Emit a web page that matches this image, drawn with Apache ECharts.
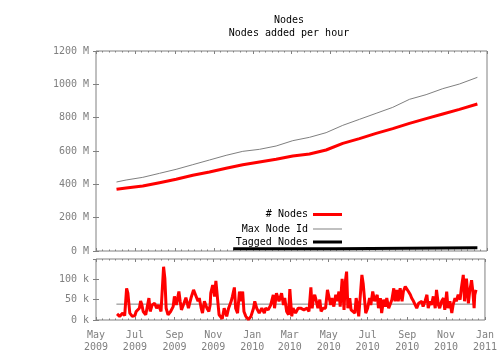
<!DOCTYPE html>
<html><head><meta charset="utf-8">
<script src="https://cdn.jsdelivr.net/npm/echarts@6/dist/echarts.min.js"></script>
<style>html,body{margin:0;padding:0;background:#fff}#c{width:500px;height:360px}</style>
</head><body><div id="c"></div>
<script>
// x values are days since 2009-05-01
const nodesDays = [32,47,73,99,125,151,177,203,229,255,281,307,333,359,385,411,437,463,489,515,541,567,595];
const nodesValues = [370,378,390,410,430,454,474,496,518,534,550,570,582,606,646,674,706,734,766,794,822,850,882]; // millions
const maxIdValues = [414,426,442,466,490,518,546,574,598,610,630,662,682,710,754,790,826,862,910,938,974,1002,1042]; // millions
const taggedDays = [214, 374, 595];
const taggedValues = [14, 19, 19]; // millions
const hourDays = [33,37,42,45,48,50,53,57,61,63,68,70,72,74,78,81,83,85,88,92,95,98,100,102,106,108,110,113,117,121,123,126,130,132,134,137,141,145,149,153,156,160,162,165,167,170,174,177,179,180,183,186,188,191,193,198,201,205,208,212,214,217,219,222,225,227,230,232,235,239,243,247,249,252,256,260,264,266,270,274,278,280,283,287,291,294,296,299,302,304,307,309,313,317,
  321,326,331,334,337,339,341,343,345,348,351,353,356,360,363,365,368,370,373,376,378,381,383,386,389,391,393,395,398,400,403,406,408,410,412,415,417,419,421,423,426,429,431,434,437,441,443,446,448,451,454,456,459,461,464,467,469,472,474,477,480,482,485,487,490,493,495,498,500,503,506,508,511,513,516,519,521,524,526,529,532,534,537,539,542,545,547,550,552,555,558,560,563,565,568,571,573,576,578,581,584,586,589,591,593,594,596];
const hourValues = [15,9,17,11,78,66,17,9,11,21,29,47,37,21,13,13,54,21,37,41,29,37,29,21,131,102,29,13,21,33,58,37,70,46,25,37,55,29,54,74,62,46,54,29,17,46,29,21,37,66,86,58,96,46,13,3,29,9,29,46,58,80,29,17,70,46,70,21,9,1,9,29,46,29,17,29,17,29,25,37,62,29,66,46,66,37,54,21,13,76,9,29,17,29,
  29,25,29,21,80,29,54,62,50,29,50,21,29,29,74,70,37,54,33,62,46,70,33,101,25,94,119,29,54,25,29,17,54,37,9,13,111,90,54,17,29,54,37,70,46,62,29,54,17,50,33,54,29,25,50,78,46,74,46,78,46,70,82,78,70,62,54,46,50,29,41,37,46,33,46,62,29,46,37,58,29,74,37,29,46,54,25,70,29,46,17,37,54,46,62,50,78,111,46,102,41,70,98,70,29,62,74]; // thousands
const hourRefDays = [32, 595];
const hourRefValues = [39, 39]; // thousands
const xTickDays = [0,61,123,184,245,304,365,426,488,549,610];
const xTickLabels = ['May\n2009','Jul\n2009','Sep\n2009','Nov\n2009','Jan\n2010','Mar\n2010','May\n2010','Jul\n2010','Sep\n2010','Nov\n2010','Jan\n2011'];

const zip = (a, b) => a.map((v, i) => [v, b[i]]);
const minorTicks = [];
for (let i = 0; i < xTickDays.length - 1; i++) {
  for (let k = 1; k < 6; k++) minorTicks.push(xTickDays[i] + (xTickDays[i+1] - xTickDays[i]) * k / 6);
}
const gray = '#808080';
const font = 'DejaVu Sans Mono';

function xAx(gridIndex, position, ticks, len, labels) {
  return {
    type: 'value', gridIndex, position, min: 0, max: 610,
    axisLine: {show: false}, splitLine: {show: false},
    axisTick: {show: true, inside: true, length: len, customValues: ticks, lineStyle: {color: gray}},
    axisLabel: labels ? {
      show: true, customValues: xTickDays,
      formatter: v => xTickLabels[xTickDays.indexOf(v)],
      color: gray, fontFamily: font, fontSize: 10, lineHeight: 12, margin: 9
    } : {show: false}
  };
}
function yAx(gridIndex, position, max, interval, unit, labels) {
  return {
    type: 'value', gridIndex, position, min: 0, max, interval,
    axisLine: {show: false}, splitLine: {show: false},
    axisTick: {show: true, inside: true, length: 3, lineStyle: {color: gray}},
    axisLabel: labels ? {
      show: true, formatter: v => v + ' ' + unit, color: gray, fontFamily: font, fontSize: 10,
      margin: 7, showMaxLabel: unit === 'M'
    } : {show: false}
  };
}
const legendBase = {right: 158, padding: 0, itemWidth: 29, icon: 'rect', align: 'right', selectedMode: false,
  textStyle: {color: '#000', fontFamily: font, fontSize: 10, lineHeight: 12}};

const option = {
  animation: false,
  backgroundColor: '#fff',
  title: {text: 'Nodes\nNodes added per hour', left: 289, top: 14, padding: 0, textAlign: 'center',
    textStyle: {color: '#000', fontFamily: font, fontSize: 10, fontWeight: 'normal', lineHeight: 13}},
  legend: [
    Object.assign({}, legendBase, {data: ['# Nodes'], top: 208.5, itemHeight: 3}),
    Object.assign({}, legendBase, {data: ['Max Node Id'], top: 223, itemHeight: 1}),
    Object.assign({}, legendBase, {data: ['Tagged Nodes'], top: 236, itemHeight: 3})
  ],
  grid: [
    {left: 96, right: 13, top: 51, height: 200, show: true, borderColor: gray, borderWidth: 1, backgroundColor: 'transparent'},
    {left: 96, right: 13, top: 259, height: 61, show: true, borderColor: gray, borderWidth: 1, backgroundColor: 'transparent'}
  ],
  xAxis: [
    xAx(0, 'bottom', xTickDays, 3, false),
    xAx(0, 'bottom', minorTicks, 1.5, false),
    xAx(0, 'top', xTickDays, 3, false),
    xAx(0, 'top', minorTicks, 1.5, false),
    xAx(1, 'bottom', xTickDays, 3, true),
    xAx(1, 'bottom', minorTicks, 1.5, false),
    xAx(1, 'top', xTickDays, 3, false),
    xAx(1, 'top', minorTicks, 1.5, false)
  ],
  yAxis: [
    yAx(0, 'left', 1200, 200, 'M', true),
    yAx(0, 'right', 1200, 200, 'M', false),
    yAx(1, 'left', 150, 50, 'k', true),
    yAx(1, 'right', 150, 50, 'k', false)
  ],
  series: [
    {name: '# Nodes', type: 'line', xAxisIndex: 0, yAxisIndex: 0, data: zip(nodesDays, nodesValues),
      showSymbol: false, color: '#ff0000', lineStyle: {width: 3, color: '#ff0000'}, z: 3},
    {name: 'Max Node Id', type: 'line', xAxisIndex: 0, yAxisIndex: 0, data: zip(nodesDays, maxIdValues),
      showSymbol: false, color: gray, lineStyle: {width: 1, color: gray}, z: 2},
    {name: 'Tagged Nodes', type: 'line', xAxisIndex: 0, yAxisIndex: 0, data: zip(taggedDays, taggedValues),
      step: 'end', showSymbol: false, color: '#000', lineStyle: {width: 3, color: '#000'}, z: 2},
    {name: 'ref per hour', type: 'line', xAxisIndex: 4, yAxisIndex: 2, data: zip(hourRefDays, hourRefValues),
      showSymbol: false, color: gray, lineStyle: {width: 1, color: gray}, z: 2},
    {name: 'Nodes per hour', type: 'line', xAxisIndex: 4, yAxisIndex: 2, data: zip(hourDays, hourValues),
      showSymbol: false, color: '#ff0000', lineStyle: {width: 3, color: '#ff0000'}, z: 3}
  ]
};
const chart = echarts.init(document.getElementById('c'), null, {renderer: 'canvas'});
chart.setOption(option);
</script></body></html>
